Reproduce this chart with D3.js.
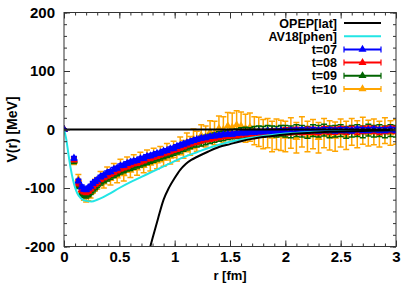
<!DOCTYPE html>
<html>
<head>
<meta charset="utf-8">
<script src="https://cdn.jsdelivr.net/npm/d3@7"></script>
<style>
  html, body { margin: 0; padding: 0; background: #fff; }
  svg { display: block; font-family: "Liberation Sans", Arial, sans-serif; font-weight: bold; }
</style>
</head>
<body>
<svg id="chart" width="404" height="286"></svg>
<script>
// lattice r points (fm)
var rGrid = [0, 0.09, 0.13, 0.16, 0.18, 0.2, 0.22, 0.24, 0.26, 0.28,
    0.3, 0.33, 0.36, 0.39, 0.42, 0.45, 0.48, 0.51, 0.54, 0.57,
    0.6, 0.63, 0.66, 0.69, 0.72, 0.75, 0.78, 0.81, 0.84, 0.87,
    0.9, 0.93, 0.96, 0.99, 1.02, 1.05, 1.08, 1.11, 1.14, 1.17,
    1.2, 1.24, 1.28, 1.32, 1.36, 1.4, 1.44, 1.48, 1.52, 1.56,
    1.6, 1.64, 1.68, 1.72, 1.76, 1.8, 1.84, 1.88, 1.92, 1.96,
    2.0, 2.05, 2.1, 2.15, 2.2, 2.25, 2.3, 2.35, 2.4, 2.45,
    2.5, 2.55, 2.6, 2.65, 2.7, 2.75, 2.8, 2.85, 2.9, 2.95, 3.0];

var v07 = [0, -49, -88, -98, -102, -103, -100, -97, -92, -89,
    -86, -81, -78, -74, -72, -68, -66, -62, -61, -58,
    -56, -54, -53, -50, -49, -46, -45, -43, -41, -40,
    -37, -36, -33, -32, -29, -27, -25, -23, -21, -19,
    -17, -15, -14, -12, -11, -10, -9, -8, -8, -7,
    -6, -6, -5, -5, -4, -4, -3, -4, -3, -2,
    -3, -2, -2, -1, -2, -1, -2, -1, -1, -2,
    -1, -1, -2, 0, -1, -1, 0, -1, -1, 0, -1];
var e07 = [1, 3, 3, 3, 3, 3, 3, 3, 3, 3,
    3, 3, 3, 3, 3, 3, 3, 3, 3, 3,
    3, 3, 3, 3, 3, 3, 3, 3, 3, 3,
    3, 3, 3, 3, 3, 3, 3, 3, 3, 3,
    3, 3, 3, 3, 3, 3, 3, 3, 3, 3,
    3, 3, 3, 3, 3, 3, 3, 3, 3, 3,
    4, 4, 4, 4, 4, 4, 4, 4, 4, 4,
    4, 4, 4, 4, 4, 4, 4, 4, 4, 4, 4];

var v08 = [0, -51, -92, -103, -106, -107, -105, -101, -97, -93,
    -90, -85, -82, -79, -76, -73, -70, -67, -65, -63,
    -60, -58, -57, -55, -53, -50, -49, -47, -45, -43,
    -41, -39, -37, -35, -33, -31, -29, -26, -24, -22,
    -20, -18, -16, -15, -14, -12, -11, -10, -9, -9,
    -8, -7, -7, -6, -5, -5, -5, -4, -4, -4,
    -3, -3, -2, -3, -2, -2, -3, -1, -2, -2,
    -1, -2, -1, -2, -1, 0, -1, -2, -1, 0, -1];
var e08 = [1, 4, 4, 4, 4, 4, 4, 4, 4, 4,
    4, 4, 4, 4, 4, 4, 4, 4, 4, 4,
    4, 4, 4, 4, 4, 4, 4, 4, 4, 4,
    4, 4, 4, 4, 4, 4, 4, 4, 4, 4,
    5, 5, 5, 5, 5, 5, 5, 5, 5, 5,
    5, 5, 5, 5, 5, 5, 5, 5, 5, 5,
    6, 6, 6, 6, 6, 6, 6, 6, 6, 6,
    6, 6, 6, 6, 6, 6, 6, 6, 6, 6, 6];

var v09 = [0, -53, -96, -108, -111, -112, -110, -106, -102, -98,
    -94, -90, -86, -83, -80, -77, -74, -71, -69, -66,
    -64, -62, -60, -58, -56, -54, -52, -50, -48, -46,
    -44, -42, -40, -38, -36, -34, -31, -29, -27, -24,
    -22, -20, -18, -16, -14, -12, -11, -9, -8, -7,
    -6, -5, -6, -4, -3, -4, -2, -3, -4, -2,
    -3, -4, -2, -3, -5, -2, -3, -1, -4, -3,
    -2, -5, -3, -2, -4, -1, -3, -2, -4, -2, -3];
var e09 = [1, 5, 5, 5, 5, 5, 5, 5, 5, 5,
    5, 5, 5, 5, 5, 5, 5, 5, 5, 5,
    6, 6, 6, 6, 6, 6, 6, 6, 6, 6,
    6, 6, 6, 6, 6, 6, 6, 6, 6, 6,
    8, 8, 8, 8, 8, 8, 8, 8, 8, 8,
    9, 9, 9, 9, 9, 9, 9, 9, 9, 9,
    10, 10, 10, 10, 10, 10, 10, 10, 10, 10,
    10, 10, 10, 10, 10, 10, 10, 10, 10, 10, 10];

var v10 = [0, -55, -85, -105, -113, -115, -113, -108, -100, -95,
    -92, -84, -90, -76, -84, -70, -80, -64, -76, -60,
    -70, -56, -66, -52, -62, -48, -58, -45, -54, -42,
    -50, -38, -46, -34, -40, -28, -34, -22, -28, -16,
    -20, -10, -12, -4, -6, 2, 0, 6, 4, 8,
    6, 2, 4, -2, -4, -8, -6, -12, -8, -10,
    -12, -6, -14, -4, -12, -8, -14, -6, -10, -12,
    -6, -10, -4, -8, -2, -6, -4, -8, -2, -6, -4];
var e10 = [1, 5, 8, 8, 8, 9, 9, 9, 9, 10,
    10, 12, 10, 12, 11, 12, 11, 13, 12, 13,
    12, 13, 12, 13, 12, 13, 13, 13, 13, 13,
    13, 14, 13, 14, 14, 15, 15, 16, 16, 17,
    17, 18, 18, 19, 20, 21, 22, 23, 24, 24,
    24, 24, 24, 24, 25, 25, 25, 26, 26, 26,
    26, 26, 26, 26, 26, 25, 26, 25, 25, 25,
    24, 24, 23, 23, 23, 22, 22, 22, 22, 21, 21];

var opepR = [0.74, 0.78, 0.8, 0.85, 0.9, 0.95, 1.0, 1.05, 1.1, 1.15, 1.2, 1.3, 1.4, 1.5,
    1.6, 1.7, 1.8, 1.9, 2.0, 2.2, 2.4, 2.6, 2.8, 3.0];
var opepV = [-235, -200, -186, -152, -120, -99, -83, -69, -59, -52, -47, -38, -30, -25,
    -20, -16, -13, -10.5, -8.5, -6, -4, -2.8, -2, -1.4];

var av18R = [0, 0.02, 0.04, 0.06, 0.08, 0.1, 0.12, 0.15, 0.2, 0.25, 0.3, 0.35, 0.4, 0.5,
    0.6, 0.7, 0.8, 0.9, 1.0, 1.1, 1.2, 1.3, 1.4, 1.5, 1.6, 1.8, 2.0, 2.2, 2.5, 3.0];
var av18V = [0, -16, -42, -66, -85, -99, -109, -117, -122, -123, -120, -116, -111, -100,
    -90, -81, -72, -63, -54, -46, -39, -32, -26, -21, -17, -11, -7, -4.5, -2.5, -1];

var xTicks = [0, 0.5, 1, 1.5, 2, 2.5, 3];
var yTicks = [-200, -100, 0, 100, 200];
var seriesNames = ["t=07", "t=08", "t=09", "t=10"];
var seriesColors = ["#0000ff", "#ff0000", "#006400", "#ffa500"];

(function () {

    var svg = d3.select('#chart'),
        left = 64, right = 396, top = 12.5, bottom = 246.5;

    var x = d3.scaleLinear().domain([0, 3]).range([left, right]),
        y = d3.scaleLinear().domain([-200, 200]).range([bottom, top]);

    var series = [
        {name: seriesNames[0], color: seriesColors[0], v: v07, e: e07},
        {name: seriesNames[1], color: seriesColors[1], v: v08, e: e08},
        {name: seriesNames[2], color: seriesColors[2], v: v09, e: e09},
        {name: seriesNames[3], color: seriesColors[3], v: v10, e: e10}
    ];

    svg.append("clipPath").attr("id", "plotclip")
        .append("rect")
        .attr("x", left).attr("y", top)
        .attr("width", right - left).attr("height", bottom - top);

    var plot = svg.append("g").attr("clip-path", "url(#plotclip)");
    var tri = d3.symbol().type(d3.symbolTriangle).size(28);

    // t=10 first so that t=07 ends up on top
    series.slice().reverse().forEach(function (s) {
        var pts = rGrid.map(function (r, i) { return {r: r, v: s.v[i], e: s.e[i]}; });
        var g = plot.append("g")
            .attr("stroke", s.color)
            .attr("fill", s.color);

        var bars = g.selectAll("g.bar").data(pts).enter().append("g").attr("class", "bar");
        bars.append("line")
            .attr("x1", function (d) { return x(d.r); })
            .attr("x2", function (d) { return x(d.r); })
            .attr("y1", function (d) { return y(d.v - d.e); })
            .attr("y2", function (d) { return y(d.v + d.e); })
            .attr("stroke-width", 1.5);
        [-1, 1].forEach(function (sgn) {
            bars.append("line")
                .attr("x1", function (d) { return x(d.r) - 3; })
                .attr("x2", function (d) { return x(d.r) + 3; })
                .attr("y1", function (d) { return y(d.v + sgn * d.e); })
                .attr("y2", function (d) { return y(d.v + sgn * d.e); })
                .attr("stroke-width", 1.5);
        });
        bars.append("path")
            .attr("d", tri)
            .attr("stroke", "none")
            .attr("transform", function (d) { return "translate(" + x(d.r) + "," + y(d.v) + ")"; });
    });

    var line = d3.line()
        .x(function (d) { return x(d[0]); })
        .y(function (d) { return y(d[1]); })
        .curve(d3.curveMonotoneX);

    plot.append("path")
        .datum(av18R.map(function (r, i) { return [r, av18V[i]]; }))
        .attr("d", line)
        .attr("fill", "none")
        .attr("stroke", "#22e5e5")
        .attr("stroke-width", 2);

    plot.append("path")
        .datum(opepR.map(function (r, i) { return [r, opepV[i]]; }))
        .attr("d", line)
        .attr("fill", "none")
        .attr("stroke", "#000")
        .attr("stroke-width", 2);

    plot.append("line")
        .attr("x1", x(0)).attr("x2", x(3))
        .attr("y1", y(0)).attr("y2", y(0))
        .attr("stroke", "#000")
        .attr("stroke-width", 2);

    // axes, ticks inside, mirrored
    var fmt = function (d) { return String(d); };
    var xMinor = d3.range(0, 31).map(function (i) { return i / 10; }),
        yMinor = d3.range(-10, 11).map(function (i) { return i * 20; });

    function styleAxis(g) {
        g.select(".domain").remove();
        g.selectAll(".tick line").attr("stroke", "#333");
        g.selectAll("text")
            .attr("fill", "#000")
            .style("font-family", '"Liberation Sans", Arial, sans-serif')
            .style("font-weight", "bold")
            .style("font-size", "15px");
    }

    svg.append("g").attr("transform", "translate(0," + bottom + ")")
        .call(d3.axisBottom(x).tickValues(xMinor).tickSize(-3).tickFormat(""))
        .call(styleAxis);
    svg.append("g").attr("transform", "translate(0," + top + ")")
        .call(d3.axisTop(x).tickValues(xMinor).tickSize(-3).tickFormat(""))
        .call(styleAxis);
    svg.append("g").attr("transform", "translate(" + left + ",0)")
        .call(d3.axisLeft(y).tickValues(yMinor).tickSize(-3).tickFormat(""))
        .call(styleAxis);
    svg.append("g").attr("transform", "translate(" + right + ",0)")
        .call(d3.axisRight(y).tickValues(yMinor).tickSize(-3).tickFormat(""))
        .call(styleAxis);

    svg.append("g").attr("transform", "translate(0," + bottom + ")")
        .call(d3.axisBottom(x).tickValues(xTicks).tickSize(-6).tickPadding(5).tickFormat(fmt))
        .call(styleAxis);
    svg.append("g").attr("transform", "translate(0," + top + ")")
        .call(d3.axisTop(x).tickValues(xTicks).tickSize(-6).tickFormat(""))
        .call(styleAxis);
    svg.append("g").attr("transform", "translate(" + left + ",0)")
        .call(d3.axisLeft(y).tickValues(yTicks).tickSize(-6).tickPadding(9).tickFormat(fmt))
        .call(styleAxis);
    svg.append("g").attr("transform", "translate(" + right + ",0)")
        .call(d3.axisRight(y).tickValues(yTicks).tickSize(-6).tickFormat(""))
        .call(styleAxis);

    svg.append("rect")
        .attr("x", left).attr("y", top)
        .attr("width", right - left).attr("height", bottom - top)
        .attr("fill", "none")
        .attr("stroke", "#333")
        .attr("stroke-width", 1);

    // axis titles
    svg.append("text")
        .attr("x", (left + right) / 2).attr("y", 280)
        .attr("text-anchor", "middle")
        .style("font-size", "13px")
        .text("r [fm]");
    svg.append("text")
        .attr("transform", "translate(17," + ((top + bottom) / 2) + ") rotate(-90)")
        .attr("text-anchor", "middle")
        .style("font-size", "14px")
        .text("V(r) [MeV]");

    // legend
    var legend = [
        {name: "OPEP[lat]", color: "#000", bars: false},
        {name: "AV18[phen]", color: "#22e5e5", bars: false}
    ].concat(series.map(function (s) { return {name: s.name, color: s.color, bars: true}; }));

    var lx0 = 344, lx1 = 381, lyStep = 13.2;
    legend.forEach(function (d, i) {
        var ly = 23 + i * lyStep,
            g = svg.append("g");
        g.append("text")
            .attr("x", 337).attr("y", ly)
            .attr("dy", "0.36em")
            .attr("text-anchor", "end")
            .style("font-size", "12.5px")
            .text(d.name);
        g.append("line")
            .attr("x1", lx0).attr("x2", lx1)
            .attr("y1", ly).attr("y2", ly)
            .attr("stroke", d.color)
            .attr("stroke-width", 2);
        if (d.bars) {
            [lx0, lx1].forEach(function (cx) {
                g.append("line")
                    .attr("x1", cx).attr("x2", cx)
                    .attr("y1", ly - 3).attr("y2", ly + 3)
                    .attr("stroke", d.color)
                    .attr("stroke-width", 1.2);
            });
            g.append("path")
                .attr("d", tri)
                .attr("fill", d.color)
                .attr("transform", "translate(" + ((lx0 + lx1) / 2) + "," + ly + ")");
        }
    });

}());
</script>
</body>
</html>
